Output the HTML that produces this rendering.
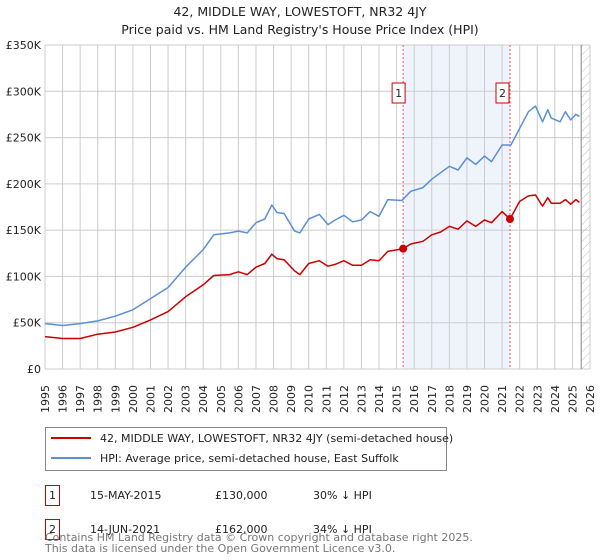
<!DOCTYPE html>
<html><head><meta charset="utf-8"><style>
body{margin:0;background:#fff;font-family:"Liberation Sans","DejaVu Sans",sans-serif;}
svg{display:block}
</style></head><body>
<svg id="c" width="600" height="560" xmlns="http://www.w3.org/2000/svg" font-family="DejaVu Sans, Liberation Sans, sans-serif">
<defs><pattern id="hatch" width="6" height="6" patternUnits="userSpaceOnUse" patternTransform="rotate(45)"><line x1="0" y1="0" x2="0" y2="6" stroke="#bbb" stroke-width="1"/></pattern></defs>
<text x="300" y="16" text-anchor="middle" font-size="12.5" fill="#222">42, MIDDLE WAY, LOWESTOFT, NR32 4JY</text>
<text x="300" y="34" text-anchor="middle" font-size="12.5" fill="#222">Price paid vs. HM Land Registry's House Price Index (HPI)</text>
<g id="grid"></g><g id="marks"></g><g id="axes"></g>
<g>
<rect x="45.5" y="427.5" width="401" height="43" fill="#fff" stroke="#888"/>
<line x1="51" y1="438" x2="91" y2="438" stroke="#cc0000" stroke-width="2"/>
<text x="100" y="442" font-size="11" fill="#222">42, MIDDLE WAY, LOWESTOFT, NR32 4JY (semi-detached house)</text>
<line x1="51" y1="458" x2="91" y2="458" stroke="#5b8fd4" stroke-width="2"/>
<text x="100" y="462" font-size="11" fill="#222">HPI: Average price, semi-detached house, East Suffolk</text>
</g>
<g font-size="11" fill="#222">
<rect x="45.5" y="485.5" width="14" height="20" fill="#fff" stroke="#cc0000"/><text x="52.5" y="499" text-anchor="middle">1</text>
<text x="90" y="499">15-MAY-2015</text><text x="215" y="499">£130,000</text><text x="313" y="499">30% ↓ HPI</text>
<rect x="45.5" y="519.5" width="14" height="20" fill="#fff" stroke="#cc0000"/><text x="52.5" y="533" text-anchor="middle">2</text>
<text x="90" y="533">14-JUN-2021</text><text x="215" y="533">£162,000</text><text x="313" y="533">34% ↓ HPI</text>
</g>
<text x="45" y="541" font-size="11" fill="#777">Contains HM Land Registry data © Crown copyright and database right 2025.</text>
<text x="45" y="552" font-size="11" fill="#777">This data is licensed under the Open Government Licence v3.0.</text>
</svg>
<script>
const hpiYears=[1995,1996,1997,1998,1999,2000,2001,2002,2003,2004,2004.6,2005.5,2006,2006.5,2007,2007.5,2007.9,2008.2,2008.6,2009.2,2009.5,2010,2010.6,2011.1,2011.5,2012,2012.5,2013,2013.5,2014,2014.5,2015.3,2015.8,2016.5,2017,2017.5,2018,2018.5,2019,2019.5,2020,2020.4,2021,2021.5,2022,2022.5,2022.9,2023.3,2023.6,2023.8,2024.3,2024.6,2024.9,2025.2,2025.4];
const hpiValues=[49,47,49,52,57,64,76,88,110,129,145,147,149,147,158,162,177,169,168,149,147,162,167,156,161,166,159,161,170,165,183,182,192,196,205,212,219,215,228,221,230,224,242,242,260,278,284,267,280,271,267,278,269,275,273];
const priceYears=[1995,1996,1997,1998,1999,2000,2001,2002,2003,2004,2004.6,2005.5,2006,2006.5,2007,2007.5,2007.9,2008.2,2008.6,2009.2,2009.5,2010,2010.6,2011.1,2011.5,2012,2012.5,2013,2013.5,2014,2014.5,2015.37,2015.8,2016.5,2017,2017.5,2018,2018.5,2019,2019.5,2020,2020.4,2021,2021.45,2022,2022.5,2022.9,2023.3,2023.6,2023.8,2024.3,2024.6,2024.9,2025.2,2025.4];
const priceValues=[35,33,33,37.6,40,45,53,62,78,91,101,102,105,102,110,114,124,119,118,106,102,114,117,111,113,117,112,112,118,117,127,130,135,138,145,148,154,151,160,154,161,158,170,162,181,187,188,176,185,179,179,183,178,183,180];
const saleYears=[2015.37,2021.45];
const saleValues=[130,162];
const saleLabels=["1","2"];
const yTicks=[0,50,100,150,200,250,300,350];
const yTickLabels=["£0","£50K","£100K","£150K","£200K","£250K","£300K","£350K"];
const xTicks=[1995,1996,1997,1998,1999,2000,2001,2002,2003,2004,2005,2006,2007,2008,2009,2010,2011,2012,2013,2014,2015,2016,2017,2018,2019,2020,2021,2022,2023,2024,2025,2026];

const NS="http://www.w3.org/2000/svg";
const X0=45,X1=590,Y0=369,Y1=45;
const xs=y=>X0+(y-1995)/(2026-1995)*(X1-X0);
const ys=v=>Y0-v/350*(Y0-Y1);
function mk(parent,tag,attrs){const e=document.createElementNS(NS,tag);for(const k in attrs)e.setAttribute(k,attrs[k]);document.getElementById(parent).appendChild(e);return e;}
let e=mk('grid','rect',{x:xs(saleYears[0]),y:Y1,width:xs(saleYears[1])-xs(saleYears[0]),height:Y0-Y1,fill:'#eef3fc'});


e=mk('grid','rect',{x:xs(2025.5),y:Y1,width:X1-xs(2025.5),height:Y0-Y1,fill:'url(#hatch)'});


xTicks.forEach(t=>{
  e=mk('grid','line',{x1:xs(t),x2:xs(t),y1:Y1,y2:Y0,stroke:'#cccccc','stroke-width':1});
  
  
  e=mk('axes','text',{transform:`translate(${xs(t)+4},${Y0+16}) rotate(-90)`,'font-size':11,fill:'#222','text-anchor':'end'});
  e.textContent=t;
  
  
});
yTicks.forEach((t,i)=>{
  e=mk('grid','line',{x1:X0,x2:X1,y1:ys(t),y2:ys(t),stroke:'#cccccc','stroke-width':1});
  
  
  e=mk('axes','text',{x:X0-4,y:ys(t)+4,'font-size':11,fill:'#222','text-anchor':'end'});
  e.textContent=yTickLabels[i];
  
  
});
e=mk('grid','line',{x1:xs(2025.5),x2:xs(2025.5),y1:Y1,y2:Y0,stroke:'#999','stroke-width':1.2});


saleYears.forEach((s,i)=>{
  e=mk('marks','line',{x1:xs(s),x2:xs(s),y1:Y1,y2:Y0,stroke:'#ee5555','stroke-width':1,'stroke-dasharray':'2,2'});
  
  
});
function path(xa,va,col,name){
  const d=xa.map((x,i)=>(i?'L':'M')+xs(x).toFixed(1)+','+ys(va[i]).toFixed(1)).join('');
  e=mk('marks','path',{d:d,fill:'none',stroke:col,'stroke-width':1.5,'stroke-linejoin':'round'});
  
  
}
path(hpiYears,hpiValues,'#5b8fd4','hpi-line');
path(priceYears,priceValues,'#cc0000','price-paid-line');
saleYears.forEach((s,i)=>{
  e=mk('marks','circle',{cx:xs(s),cy:ys(saleValues[i]),r:4,fill:'#cc0000'});
  
  
  const bx=xs(s)-7-(i?7:4);
  e=mk('marks','rect',{x:bx,y:83,width:13,height:20,fill:'#fff',stroke:'#cc0000'});
  
  
  e=mk('marks','text',{x:bx+6.5,y:97,'font-size':11,fill:'#222','text-anchor':'middle'});
  e.textContent=saleLabels[i];
  
  
});
</script>
</body></html>
